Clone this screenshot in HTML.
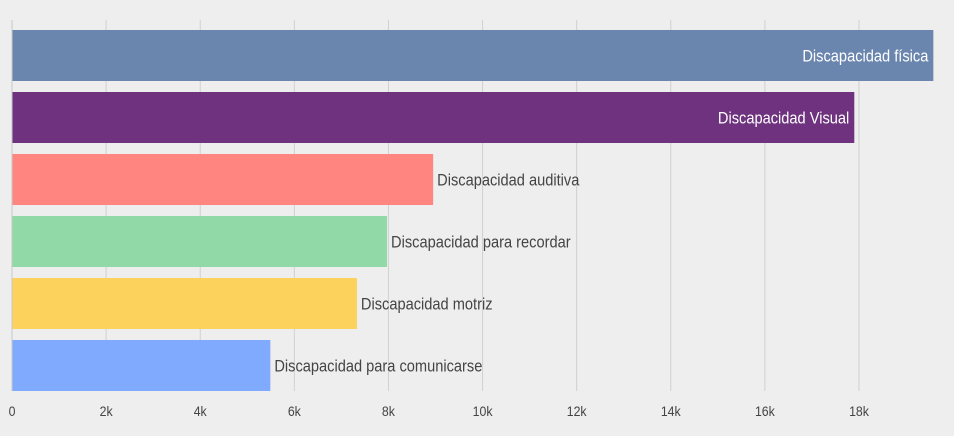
<!DOCTYPE html>
<html><head><meta charset="utf-8"><style>
html,body{margin:0;padding:0;background:#eeeeee;width:954px;height:436px;overflow:hidden}
svg text{font-family:"Liberation Sans Narrow","Liberation Sans",sans-serif}
</style></head><body>
<svg id="chart" width="954" height="436" xmlns="http://www.w3.org/2000/svg"></svg>
<script>
const categories=["Discapacidad física","Discapacidad Visual","Discapacidad auditiva","Discapacidad para recordar","Discapacidad motriz","Discapacidad para comunicarse"];
const values=[19580,17900,8950,7970,7330,5490];
const colors=["#6a86ae","#6e327e","#ff8581","#91d9a6","#fcd15c","#80aafd"];
const ticks=[0,2000,4000,6000,8000,10000,12000,14000,16000,18000];
const tickLabels=["0","2k","4k","6k","8k","10k","12k","14k","16k","18k"];
const NS="http://www.w3.org/2000/svg";
const svg=document.getElementById('chart');
const x0=12,scale=(859-12)/18000;
const X=v=>x0+v*scale;
const Y=i=>30+i*62;
const bh=51;
function mk(t,a){const e=document.createElementNS(NS,t);for(const k in a)e.setAttribute(k,a[k]);svg.appendChild(e);return e;}
function squeeze(t,f){const w=t.getComputedTextLength();t.setAttribute('textLength',w*f);t.setAttribute('lengthAdjust','spacingAndGlyphs');}
ticks.forEach((t,i)=>{
  if(i>0){const g=mk('line',{x1:X(t),x2:X(t),y1:20,y2:391,stroke:'#d0d0d0','stroke-width':1});
  
  }
  const l=mk('text',{x:X(t),y:416,'text-anchor':'middle','font-size':14,fill:'#444'});
  l.textContent=tickLabels[i];
  
  
  squeeze(l,0.88);
});
categories.forEach((c,i)=>{
  const r=mk('rect',{x:x0,y:Y(i),width:X(values[i])-x0,height:bh,fill:colors[i]});
  
  
  const inside=i<2;
  const t=mk('text',{x:inside?X(values[i])-5:X(values[i])+4,y:Y(i)+bh/2+6,'text-anchor':inside?'end':'start','font-size':17,fill:inside?'#fff':'#444'});
  t.textContent=c;
  
  
  squeeze(t,0.86);
});
const ax=mk('line',{x1:x0,x2:x0,y1:20,y2:391,stroke:'#c8c8c8','stroke-width':1});


</script>
</body></html>
